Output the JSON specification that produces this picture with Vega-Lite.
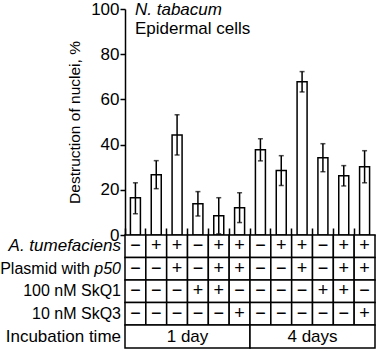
{
  "$schema": "https://vega.github.io/schema/vega-lite/v6.json",
  "padding": {"left": 0, "top": 0, "right": 0, "bottom": 0},
  "bounds": "flush",
  "spacing": 0,
  "config": {
    "view": {"stroke": null},
    "font": "Arial, Liberation Sans, Helvetica, sans-serif",
    "text": {"font": "Arial, Liberation Sans, Helvetica, sans-serif", "fontSize": 17, "color": "black"}
  },
  "datasets": {
    "bars": [
      {"col": 1, "value": 16.5, "lo": 9.4, "hi": 23.1},
      {"col": 2, "value": 26.7, "lo": 20.5, "hi": 32.9},
      {"col": 3, "value": 44.3, "lo": 35.4, "hi": 53.2},
      {"col": 4, "value": 13.8, "lo": 8.4, "hi": 19.2},
      {"col": 5, "value": 8.5, "lo": 0.5, "hi": 16.5},
      {"col": 6, "value": 12.1, "lo": 5.5, "hi": 18.7},
      {"col": 7, "value": 37.7, "lo": 32.8, "hi": 42.6},
      {"col": 8, "value": 28.5, "lo": 21.9, "hi": 35.1},
      {"col": 9, "value": 67.8, "lo": 63.3, "hi": 72.3},
      {"col": 10, "value": 34.2, "lo": 28.0, "hi": 40.4},
      {"col": 11, "value": 26.2, "lo": 21.7, "hi": 30.7},
      {"col": 12, "value": 30.2, "lo": 23.1, "hi": 37.3}
    ],
    "signs": [
      {"row": "A", "col": 1, "sign": "−"}, {"row": "A", "col": 2, "sign": "+"}, {"row": "A", "col": 3, "sign": "+"}, {"row": "A", "col": 4, "sign": "−"}, {"row": "A", "col": 5, "sign": "+"}, {"row": "A", "col": 6, "sign": "+"},
      {"row": "A", "col": 7, "sign": "−"}, {"row": "A", "col": 8, "sign": "+"}, {"row": "A", "col": 9, "sign": "+"}, {"row": "A", "col": 10, "sign": "−"}, {"row": "A", "col": 11, "sign": "+"}, {"row": "A", "col": 12, "sign": "+"},
      {"row": "P", "col": 1, "sign": "−"}, {"row": "P", "col": 2, "sign": "−"}, {"row": "P", "col": 3, "sign": "+"}, {"row": "P", "col": 4, "sign": "−"}, {"row": "P", "col": 5, "sign": "+"}, {"row": "P", "col": 6, "sign": "+"},
      {"row": "P", "col": 7, "sign": "−"}, {"row": "P", "col": 8, "sign": "−"}, {"row": "P", "col": 9, "sign": "+"}, {"row": "P", "col": 10, "sign": "−"}, {"row": "P", "col": 11, "sign": "+"}, {"row": "P", "col": 12, "sign": "+"},
      {"row": "S1", "col": 1, "sign": "−"}, {"row": "S1", "col": 2, "sign": "−"}, {"row": "S1", "col": 3, "sign": "−"}, {"row": "S1", "col": 4, "sign": "+"}, {"row": "S1", "col": 5, "sign": "+"}, {"row": "S1", "col": 6, "sign": "−"},
      {"row": "S1", "col": 7, "sign": "−"}, {"row": "S1", "col": 8, "sign": "−"}, {"row": "S1", "col": 9, "sign": "−"}, {"row": "S1", "col": 10, "sign": "+"}, {"row": "S1", "col": 11, "sign": "+"}, {"row": "S1", "col": 12, "sign": "−"},
      {"row": "S3", "col": 1, "sign": "−"}, {"row": "S3", "col": 2, "sign": "−"}, {"row": "S3", "col": 3, "sign": "−"}, {"row": "S3", "col": 4, "sign": "−"}, {"row": "S3", "col": 5, "sign": "−"}, {"row": "S3", "col": 6, "sign": "+"},
      {"row": "S3", "col": 7, "sign": "−"}, {"row": "S3", "col": 8, "sign": "−"}, {"row": "S3", "col": 9, "sign": "−"}, {"row": "S3", "col": 10, "sign": "−"}, {"row": "S3", "col": 11, "sign": "−"}, {"row": "S3", "col": 12, "sign": "+"}
    ],
    "rowlabels": [
      {"row": "A", "label": "A. tumefaciens", "style": "italicbig"},
      {"row": "P", "label": "Plasmid with", "style": "normalshift"},
      {"row": "P", "label": "p50", "style": "italic"},
      {"row": "S1", "label": "100 nM SkQ1", "style": "normal"},
      {"row": "S3", "label": "10 nM SkQ3", "style": "normal"}
    ],
    "incub": [
      {"row": "I", "period": "1 day"},
      {"row": "I", "period": "4 days"}
    ],
    "incublabel": [{"row": "I", "label": "Incubation time"}],
    "title1": [{"t": "N. tabacum"}],
    "title2": [{"t": "Epidermal cells"}]
  },
  "vconcat": [
    {
      "width": 250,
      "height": 226,
      "layer": [
        {
          "data": {"name": "bars"},
          "mark": {"type": "bar", "fill": "white", "stroke": "black", "strokeWidth": 1.5, "width": {"band": 0.48}},
          "encoding": {
            "x": {"field": "col", "type": "ordinal", "scale": {"paddingInner": 0, "paddingOuter": 0},
              "axis": {"title": null, "labels": false, "ticks": true, "tickSize": -7, "bandPosition": 0, "domainColor": "black", "domainWidth": 1.5, "tickColor": "black", "tickWidth": 1.5}},
            "y": {"field": "value", "type": "quantitative", "scale": {"domain": [0, 100]},
              "axis": {"values": [0, 20, 40, 60, 80, 100], "title": "Destruction of nuclei, %", "titleFontSize": 15.5, "titleFontWeight": "normal", "titleColor": "black", "labelFontSize": 17, "labelColor": "black", "tickSize": 5, "tickWidth": 1.5, "tickColor": "black", "labelPadding": 1, "domainColor": "black", "domainWidth": 1.5, "grid": false, "titlePadding": 8}}
          }
        },
        {
          "data": {"name": "bars"},
          "mark": {"type": "rule", "strokeWidth": 1.5, "color": "black"},
          "encoding": {
            "x": {"field": "col", "type": "ordinal"},
            "y": {"field": "lo", "type": "quantitative"},
            "y2": {"field": "hi"}
          }
        },
        {
          "data": {"name": "bars"},
          "mark": {"type": "tick", "orient": "horizontal", "size": 5, "thickness": 1.5, "color": "black"},
          "encoding": {
            "x": {"field": "col", "type": "ordinal"},
            "y": {"field": "lo", "type": "quantitative"}
          }
        },
        {
          "data": {"name": "bars"},
          "mark": {"type": "tick", "orient": "horizontal", "size": 5, "thickness": 1.5, "color": "black"},
          "encoding": {
            "x": {"field": "col", "type": "ordinal"},
            "y": {"field": "hi", "type": "quantitative"}
          }
        },
        {
          "data": {"name": "title1"},
          "mark": {"type": "text", "align": "left", "baseline": "alphabetic", "fontStyle": "italic", "dx": 10, "dy": 6},
          "encoding": {
            "x": {"datum": 1, "type": "ordinal", "bandPosition": 0},
            "y": {"datum": 100, "type": "quantitative"},
            "text": {"field": "t"}
          }
        },
        {
          "data": {"name": "title2"},
          "mark": {"type": "text", "align": "left", "baseline": "alphabetic", "dx": 10, "dy": 25},
          "encoding": {
            "x": {"datum": 1, "type": "ordinal", "bandPosition": 0},
            "y": {"datum": 100, "type": "quantitative"},
            "text": {"field": "t"}
          }
        }
      ]
    },
    {
      "width": 250,
      "height": 90,
      "layer": [
        {
          "data": {"name": "signs"},
          "mark": {"type": "rect", "fill": "white", "stroke": "black", "strokeWidth": 1.5},
          "encoding": {
            "x": {"field": "col", "type": "ordinal", "scale": {"paddingInner": 0, "paddingOuter": 0}, "axis": null},
            "y": {"field": "row", "type": "ordinal", "scale": {"domain": ["A", "P", "S1", "S3"], "paddingInner": 0, "paddingOuter": 0}, "axis": null}
          }
        },
        {
          "data": {"name": "signs"},
          "mark": {"type": "text", "align": "center", "baseline": "middle", "fontSize": 18},
          "encoding": {
            "x": {"field": "col", "type": "ordinal"},
            "y": {"field": "row", "type": "ordinal"},
            "text": {"field": "sign"}
          }
        },
        {
          "data": {"name": "rowlabels"},
          "transform": [{"filter": "datum.style == 'normal'"}],
          "mark": {"type": "text", "align": "right", "baseline": "middle", "dx": -4, "fontSize": 16},
          "encoding": {
            "x": {"datum": 1, "type": "ordinal", "bandPosition": 0},
            "y": {"field": "row", "type": "ordinal"},
            "text": {"field": "label"}
          }
        },
        {
          "data": {"name": "rowlabels"},
          "transform": [{"filter": "datum.style == 'italicbig'"}],
          "mark": {"type": "text", "align": "right", "baseline": "middle", "dx": -4, "fontStyle": "italic", "fontSize": 17},
          "encoding": {
            "x": {"datum": 1, "type": "ordinal", "bandPosition": 0},
            "y": {"field": "row", "type": "ordinal"},
            "text": {"field": "label"}
          }
        },
        {
          "data": {"name": "rowlabels"},
          "transform": [{"filter": "datum.style == 'italic'"}],
          "mark": {"type": "text", "align": "right", "baseline": "middle", "dx": -4, "fontStyle": "italic", "fontSize": 16},
          "encoding": {
            "x": {"datum": 1, "type": "ordinal", "bandPosition": 0},
            "y": {"field": "row", "type": "ordinal"},
            "text": {"field": "label"}
          }
        },
        {
          "data": {"name": "rowlabels"},
          "transform": [{"filter": "datum.style == 'normalshift'"}],
          "mark": {"type": "text", "align": "right", "baseline": "middle", "dx": -35, "fontSize": 16},
          "encoding": {
            "x": {"datum": 1, "type": "ordinal", "bandPosition": 0},
            "y": {"field": "row", "type": "ordinal"},
            "text": {"field": "label"}
          }
        }
      ]
    },
    {
      "width": 250,
      "height": 23,
      "layer": [
        {
          "data": {"name": "incub"},
          "mark": {"type": "rect", "fill": "white", "stroke": "black", "strokeWidth": 1.5},
          "encoding": {
            "x": {"field": "period", "type": "ordinal", "scale": {"paddingInner": 0, "paddingOuter": 0}, "axis": null},
            "y": {"field": "row", "type": "ordinal", "scale": {"paddingInner": 0, "paddingOuter": 0}, "axis": null}
          }
        },
        {
          "data": {"name": "incub"},
          "mark": {"type": "text", "align": "center", "baseline": "middle"},
          "encoding": {
            "x": {"field": "period", "type": "ordinal"},
            "y": {"field": "row", "type": "ordinal"},
            "text": {"field": "period"}
          }
        },
        {
          "data": {"name": "incublabel"},
          "mark": {"type": "text", "align": "right", "baseline": "middle", "dx": -4},
          "encoding": {
            "x": {"datum": "1 day", "type": "ordinal", "bandPosition": 0},
            "y": {"field": "row", "type": "ordinal"},
            "text": {"field": "label"}
          }
        }
      ]
    }
  ]
}
